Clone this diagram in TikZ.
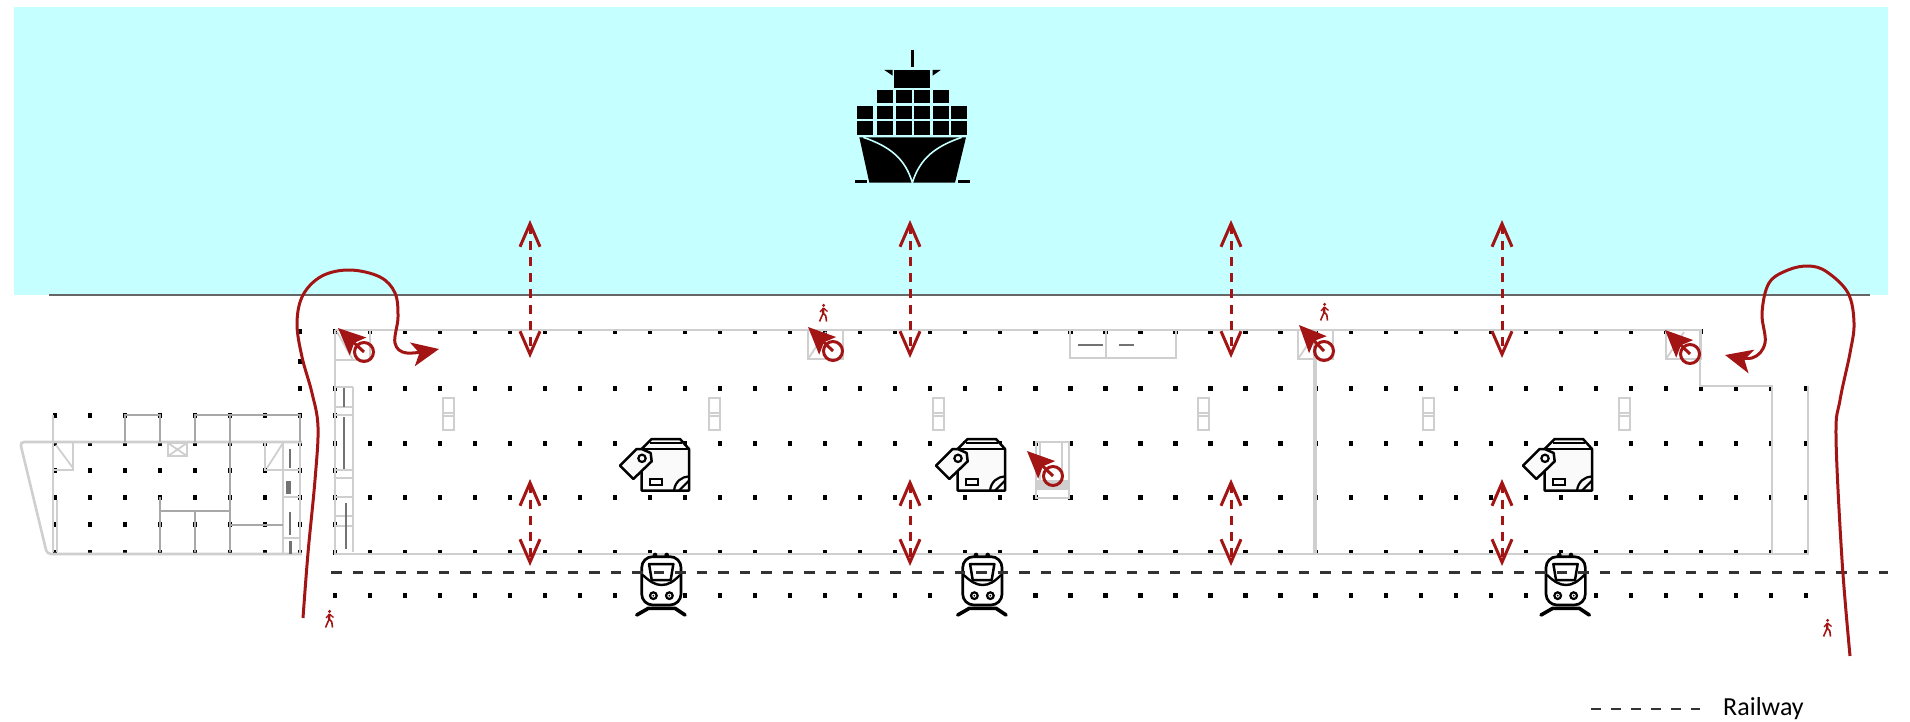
\documentclass[tikz,border=0pt]{standalone}
\usepackage{fontspec}
\setmainfont{Carlito}
\usepackage{tikz}
\usetikzlibrary{arrows.meta}

\definecolor{seablue}{HTML}{C6FFFF}
\definecolor{routered}{HTML}{A31515}
\definecolor{wallgrey}{HTML}{CFCFCF}
\definecolor{walldark}{HTML}{A8A8A8}

\tikzset{
    wall/.style={draw=wallgrey, line width=2.6pt},
    inner/.style={draw=wallgrey, line width=1.8pt},
    thickwall/.style={draw=wallgrey, line width=4pt},
    partition/.style={draw=walldark, line width=1.9pt},
    bar/.style={draw=black!55, line width=2.2pt},
    railway/.style={draw=black!80, line width=2.1pt},
    route/.style={draw=routered, line width=3pt, -{Stealth[length=27pt,width=24pt,inset=7pt]}},
    flow/.style={draw=routered, line width=3pt, dash pattern=on 9pt off 7pt,
        {Straight Barb[length=23pt,width=20pt,line width=3pt]}-{Straight Barb[length=23pt,width=20pt,line width=3pt]}},
    lift/.style={circle, draw=routered, line width=3pt, minimum size=19pt, inner sep=0pt},
    liftarrow/.style={draw=routered, line width=3pt, -{Stealth[length=27pt,width=24pt,inset=5pt]}},
    parcel/.pic={
        \filldraw[fill=black!2, draw=black, line width=2.5pt, line join=round] (65,30) -- (95,0) -- (180,0) -- (207,30) -- (207,155) -- (65,155) -- cycle;
        \draw[line width=2.5pt] (65,30) -- (207,30) (90,12) -- (185,12);
        \filldraw[fill=black!2, draw=black, line width=2.5pt, line join=round] (0,80) -- (40,120) -- (95,67) -- (92,42) -- (65,30) -- (50,30) -- cycle;
        \draw[line width=2.2pt] (66,58) circle[radius=11];
        \draw[line width=2.2pt] (90,120) rectangle (127,139);
        \draw[line width=2.2pt] (162,155) .. controls (165,128) and (185,113) .. (207,112);
        \draw[line width=2.2pt] (177,155) -- (207,125);
    },
    train/.pic={
        \fill (40,0) circle[radius=7] (75,0) circle[radius=7];
        \filldraw[fill=white, draw=black, line width=2.7pt, rounded corners=11pt] (0,5) rectangle (118,150);
        \draw[line width=2.5pt, line join=round] (22,27) -- (95,27) -- (87,75) -- (30,75) -- cycle;
        \draw[line width=2.4pt] (3,60) .. controls (25,80) and (40,90) .. (60,90) .. controls (80,90) and (95,80) .. (115,60);
        \draw[line width=2.2pt] (35,122) circle[radius=10] (83,122) circle[radius=10];
        \fill (35,122) circle[radius=3] (83,122) circle[radius=3];
        \draw[line width=3.6pt, line cap=round, line join=round] (-15,180) -- (20,160) -- (100,160) -- (130,180);
    },
    walker/.pic={
        \fill[routered] (0.6,-7.6) circle[radius=1.7];
        \draw[routered, line width=2.4pt] (0.5,-5) -- (0,0);
        \draw[routered, line width=1.6pt] (0.2,0) -- (-3.5,8.5) (0.2,0) -- (2.8,3) -- (3.5,8.5);
        \draw[routered, line width=1.3pt] (0.5,-5) -- (-3,-1) (0.5,-5) -- (4.5,-1.5);
    }
}

\begin{document}
\begin{tikzpicture}[x=1pt, y=-1pt]
\useasboundingbox (0,0) rectangle (1910,722);

% Water and quay edge
\fill[seablue] (14,7) rectangle (1888,295);
\draw[draw=black!60, line width=1.8pt] (49,295) -- (1870,295);

% Pillars, main hall
\foreach \n in {0,...,42} {
    \foreach \y in {388,443,497,552,595} {
        \fill ({335+35.02*\n-2.1},\y-2.5) rectangle ++(4.2,5);
    }
}
\foreach \n in {0,...,39} {
    \fill ({335+35.02*\n-2.1},331-2.5) rectangle ++(4.2,5);
}
\foreach \y in {415,470,524} {
    \fill (332.9,\y-2.5) rectangle ++(4.2,5);
}

% Pillars, side building
\foreach \n in {0,...,7} {
    \foreach \y in {415,443,470,497,524,552} {
        \fill ({55+35*\n-2.1},\y-2.5) rectangle ++(4.2,5);
    }
}
\foreach \y in {331,361,388} {
    \fill (297.9,\y-2.5) rectangle ++(4.2,5);
}

% Side building walls
\draw[wall, rounded corners=4pt] (302,442) -- (20,442) -- (47,554) -- (302,554);
\draw[inner] (53,415) -- (53,442) (53,442) -- (53,552) (57,500) -- (57,552);
\draw[inner] (53,442) rectangle (73,470) (56,445) -- (73,468);
\draw[inner] (168,443) rectangle (187,456) (168,443) -- (187,456) (168,456) -- (187,443);
\draw[inner] (265,443) -- (265,470) -- (283,470) (283,443) -- (267,468);
\draw[inner] (283,443) -- (283,554) (300,443) -- (300,554);
\draw[inner] (283,470) -- (300,470) (283,497) -- (300,497) (283,538) -- (300,538);
\draw[partition] (125,442) -- (125,415) -- (160,415) -- (160,442);
\draw[partition] (195,442) -- (195,415) -- (300,415) -- (300,442);
\draw[partition] (230,415) -- (230,552);
\draw[partition] (160,497) -- (160,552) (160,511) -- (230,511) (195,511) -- (195,552);
\draw[partition] (230,525) -- (283,525);
\draw[bar] (289.7,449) -- (289.7,468) (290,512) -- (290,535) (290.5,541) -- (290.5,554);
\draw[bar, line width=5pt] (288.7,481) -- (288.7,494);

% Main hall walls
\draw[wall] (335,330) -- (1700,330) -- (1700,386) -- (1772,386) -- (1772,554);
\draw[wall] (335,330) -- (335,554) -- (1808,554) -- (1808,386);
\draw[thickwall] (1315,330) -- (1315,554);
\draw[inner] (353,387) -- (353,552);
\foreach \y in {387,407,415,470,478,497,516,526} {
    \draw[inner] (335,\y) -- (353,\y);
}
\draw[bar] (344,388) -- (344,407) (344,417) -- (344,469) (346,503) -- (346,549);

% Stair boxes
\draw[inner] (335,360) -- (370,360) -- (370,330) (337,332) -- (353,360);
\foreach \x in {808,1298,1666} {
    \draw[inner] (\x,330) rectangle (\x+35,359) (\x,359) -- (\x+18,332);
}
\draw[inner] (1070,330) rectangle (1176,358) (1106,330) -- (1106,358);
\draw[bar, line width=2.8pt] (1078,345) -- (1103,345) (1119,345) -- (1134,345);
\foreach \x in {443,709,933,1198,1423,1619} {
    \draw[inner] (\x,398) rectangle (\x+11,430) (\x,413) -- (\x+11,413) (\x,416) -- (\x+11,416);
}
\fill[wallgrey] (1036,480) rectangle (1069,490);
\draw[inner] (1036,442) rectangle (1069,498) (1040,442) -- (1040,480) (1062,442) -- (1062,480);

% Ship
\begin{scope}[shift={(820,30)}, scale=1/3]
    \draw[line width=2.6pt] (277,60) -- (277,110);
    \fill (223,120) rectangle (330,174);
    \fill (193,120) -- (218,120) -- (218,137) -- cycle (362,120) -- (338,120) -- (338,137) -- cycle;
    \foreach \x in {170,227,281,338} {
        \fill (\x,180) rectangle +(48,40);
    }
    \foreach \x in {112,170,227,281,338,392} {
        \fill (\x,228) rectangle +(48,40);
        \fill (\x,274) rectangle +(48,40);
    }
    \fill (118,322) -- (438,322) -- (405,458) -- (148,458) -- cycle;
    \draw[seablue, line width=1.6pt] (130,322) .. controls (210,350) and (255,385) .. (277,458) .. controls (300,385) and (345,350) .. (425,322);
    \draw[line width=2.6pt] (105,454) -- (140,454) (415,454) -- (450,454);
\end{scope}

% Goods
\pic[scale=1/3] (parcelA) at (620,439) {parcel};
\pic[scale=1/3] (parcelB) at (936,439) {parcel};
\pic[scale=1/3] (parcelC) at (1523,439) {parcel};

% Trains
\pic[scale=1/3] (trainA) at (641.7,555) {train};
\pic[scale=1/3] (trainB) at (962.7,555) {train};
\pic[scale=1/3] (trainC) at (1546,555) {train};

% Railway
\draw[railway, dash pattern=on 10.6pt off 10.9pt] (331,572.5) -- (1888,572.5);

% Exchange between ship, hall and train
\foreach \i/\x in {a/530,b/910,c/1231,d/1502} {
    \coordinate (top\i) at (\x,220);
    \coordinate (quay\i) at (\x,358);
    \coordinate (hall\i) at (\x,479);
    \coordinate (rail\i) at (\x,566);
    \draw[flow] (top\i) -- (quay\i);
    \draw[flow] (hall\i) -- (rail\i);
}

% Lifts
\foreach \i/\cx/\cy/\tx/\ty in {a/364/352/338/328, b/833/351/808/327, c/1053/476/1027/451, d/1324/351/1299/325, e/1690/354/1665/330} {
    \node[lift] (lift\i) at (\cx,\cy) {};
    \coordinate (tip\i) at (\tx,\ty);
    \draw[liftarrow] (lift\i.center) -- (tip\i);
}

% Walking routes
\draw[route] plot[smooth, tension=0.6] coordinates {(303,618) (308,553) (315,480) (318,427) (312,393) (302,357) (297,323) (303,295) (322,276) (350,270) (380,277) (395,293) (398,317) (395,343) (407,353) (439,349)};
\draw[route] plot[smooth, tension=0.6] coordinates {(1850,656) (1842,560) (1836,437) (1840,400) (1850,353) (1854,323) (1848,293) (1827,272) (1809,266) (1788,270) (1769,283) (1762,313) (1765,343) (1752,358) (1725,355)};

% Walkers
\pic (walkerA) at (329,619) {walker};
\pic (walkerB) at (823,313) {walker};
\pic (walkerC) at (1324,312) {walker};
\pic (walkerD) at (1827,628) {walker};

% Legend
\coordinate (legendA) at (1591,709);
\coordinate (legendB) at (1700,709);
\draw[railway, dash pattern=on 10pt off 10pt] (legendA) -- (legendB);
\node[font=\fontsize{26}{28}\selectfont, anchor=west, inner sep=0pt] (legendlabel) at (1723,709) {Railway};

\end{tikzpicture}
\end{document}
